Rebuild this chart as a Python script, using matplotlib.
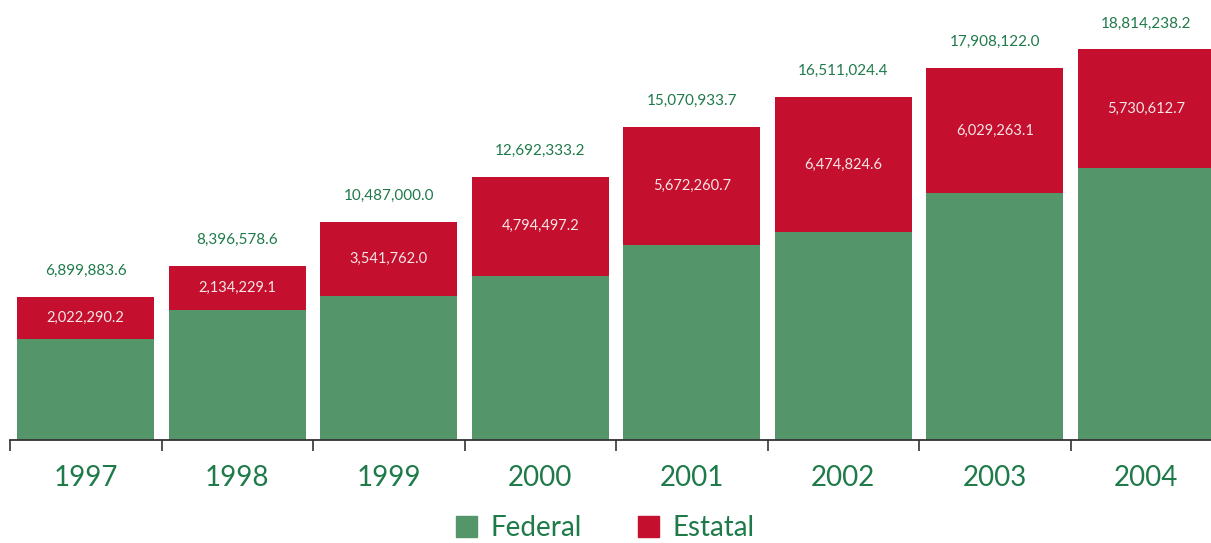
#!/usr/bin/env python3
import matplotlib
matplotlib.use("Agg")
import matplotlib.pyplot as plt
import numpy as np
from matplotlib.patches import Patch

plt.rcParams["font.family"] = ["Lato", "DejaVu Sans"]

years = ["1997", "1998", "1999", "2000", "2001", "2002", "2003", "2004"]
totals = [6899883.6, 8396578.6, 10487000.0, 12692333.2,
          15070933.7, 16511024.4, 17908122.0, 18814238.2]
estatal = [2022290.2, 2134229.1, 3541762.0, 4794497.2,
           5672260.7, 6474824.6, 6029263.1, 5730612.7]
federal = [t - e for t, e in zip(totals, estatal)]

GREEN = "#54966a"
RED = "#c4102e"
TEXT_GREEN = "#1f7a4a"


def main():
    fig = plt.figure(figsize=(12.11, 5.43), dpi=100)
    ax = fig.add_axes([10 / 1211, 0.19, 1 - 10 / 1211, 0.81])

    x = np.arange(len(years))
    w = 0.905
    ax.bar(x, federal, width=w, color=GREEN, edgecolor="none")
    ax.bar(x, estatal, width=w, bottom=federal, color=RED, edgecolor="none")

    for i in range(len(years)):
        ax.annotate(f"{totals[i]:,.1f}", (x[i], totals[i]), xytext=(0, 26),
                    textcoords="offset pixels", ha="center", va="center",
                    fontsize=11, color=TEXT_GREEN)
        ax.text(x[i], federal[i] + estatal[i] / 2, f"{estatal[i]:,.1f}",
                ha="center", va="center", fontsize=10.5, color="#f6e6e6")

    ax.set_xlim(-0.5, -0.5 + 1201 / 151.5)
    ax.set_ylim(0, 21.2e6)
    for s in ["top", "right", "left"]:
        ax.spines[s].set_visible(False)
    ax.spines["bottom"].set_color("#333333")
    ax.spines["bottom"].set_linewidth(1.3)
    ax.set_yticks([])

    ax.set_xticks(x)
    ax.set_xticklabels(years, fontsize=20, color=TEXT_GREEN)
    ax.tick_params(axis="x", which="major", length=0, pad=18)
    ax.set_xticks(np.arange(-0.5, 7, 1.0), minor=True)
    ax.tick_params(axis="x", which="minor", length=8, width=1.2,
                   color="#333333", direction="out")

    handles = [Patch(color=GREEN, label="Federal"),
               Patch(color=RED, label="Estatal")]
    fig.legend(handles=handles, loc="center", bbox_to_anchor=(0.5, 0.027),
               ncol=2, frameon=False, fontsize=20, labelcolor=TEXT_GREEN,
               handlelength=0.75, handleheight=0.75, handletextpad=0.5,
               columnspacing=2.0)

    fig.savefig("out.png", dpi=100)
    plt.close(fig)


if __name__ == "__main__":
    main()
